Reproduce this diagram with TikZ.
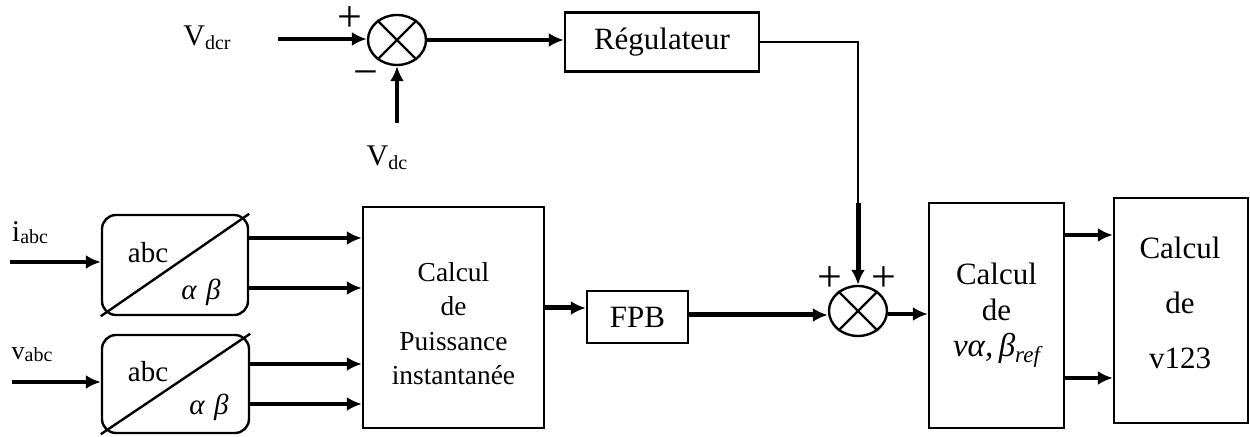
\documentclass[tikz,border=0pt]{standalone}
\usepackage{fontspec}
\setmainfont{Liberation Serif}
\usetikzlibrary{arrows.meta,shapes.geometric}

\begin{document}
\begin{tikzpicture}[x=0.5pt,y=-0.5pt,
  blk/.style={draw,line width=1.2pt,inner sep=0pt,align=center},
  rblk/.style={blk,rounded corners=7pt},
  sumj/.style={draw,line width=1.2pt,ellipse,minimum width=29pt,minimum height=25pt,inner sep=0pt},
  tip/.style={-{Latex[length=7.5pt,width=7pt]}},
  conn/.style={line width=1.6pt,tip},
  heavy/.style={line width=2.5pt,tip},
  wire/.style={line width=1.3pt},
  big/.style={font=\fontsize{15.5}{18}\selectfont},
  mid/.style={font=\fontsize{13.7}{17.2}\selectfont},
  sgn/.style={font=\fontsize{22}{22}\selectfont,inner sep=0pt},
  sig/.style={font=\fontsize{15}{15}\selectfont,inner sep=0pt},
  ab/.style={font=\fontsize{14.5}{14.5}\selectfont}
]
\useasboundingbox (0,0) rectangle (1250,437);

% summing junctions
\node[sumj] (s1) at (397,40) {};
\draw[line width=1.2pt] (s1.45) -- (s1.225) (s1.135) -- (s1.315);
\node[sumj] (s2) at (858,311) {};
\draw[line width=1.2pt] (s2.45) -- (s2.225) (s2.135) -- (s2.315);

% blocks
\node[blk,big,minimum width=97pt,minimum height=29.5pt] (reg) at (662,42) {Régulateur};
\node[blk,minimum width=90.5pt,minimum height=110.5pt] (calc) at (453.5,317.5) {};
\node[mid,align=center] (calctxt) at (453.5,323.5) {Calcul\\de\\Puissance\\instantanée};
\node[blk,big,minimum width=50.5pt,minimum height=26pt] (fpb) at (637.5,317) {FPB};
\node[blk,big,minimum width=67.5pt,minimum height=112.5pt] (cva) at (996.5,315.5)
  {Calcul\\de\\{\fontsize{16.5}{18}\selectfont\itshape vα,\,β\raisebox{-3pt}{\fontsize{11.5}{12}\selectfont ref}}};
\node[blk,minimum width=67pt,minimum height=112.5pt] (c123) at (1181,310.5) {};
\node[font=\fontsize{15.5}{27.5}\selectfont,align=center] (c123txt) at (1180,303) {Calcul\\de\\v123};

% abc / alpha-beta transforms
\node[rblk,minimum width=73pt,minimum height=50pt] (t1) at (175,265) {};
\draw[line width=1.2pt] (t1.south west) -- (t1.north east);
\node[ab] (t1a) at (148,253) {abc};
\node[ab] (t1b) at (201,292) {\itshape α\,\,β};
\node[rblk,minimum width=73.5pt,minimum height=49pt] (t2) at (175.5,384) {};
\draw[line width=1.2pt] (t2.south west) -- (t2.north east);
\node[ab] (t2a) at (148,372) {abc};
\node[ab] (t2b) at (209,407) {\itshape α\,\,β};

% signal labels
\node[sig] (vdcr) at (207,38) {V\raisebox{-2pt}{\fontsize{10}{10}\selectfont dcr}};
\node[sig] (vdc) at (387,158) {V\raisebox{-2pt}{\fontsize{10}{10}\selectfont dc}};
\node[sig] (iabc) at (30,233) {i\raisebox{-1pt}{\fontsize{10}{10}\selectfont abc}};
\node[sig] (vabc) at (32,355) {\fontsize{13}{13}\selectfont v\raisebox{-1pt}{\fontsize{10}{10}\selectfont abc}};

% signs
\node[sgn] (p1) at (350,19) {+};
\node[sgn] (m1) at (366,79) {−};
\node[sgn] (p2) at (830,279) {+};
\node[sgn] (p3) at (884,279) {+};

% free ends of inputs and the feedback bend
\coordinate (vdcrin) at (278,39);
\coordinate (vdcin) at (397,123);
\coordinate (iin) at (10,262);
\coordinate (vin) at (12,382);
\coordinate (corner) at (s2.north |- reg.east);
\coordinate (thick) at (s2.north |- 0,203);

% connectors
\draw[conn] (vdcrin) -- (vdcrin -| s1.west);
\draw[conn] (vdcin) -- (s1.south);
\draw[conn] (s1.east) -- (reg.west |- s1.east);
\draw[wire] (reg.east) -- (corner) -- (thick);
\draw[heavy] (thick) -- (s2.north);

\draw[conn] (iin) -- (iin -| t1.west);
\draw[conn] (vin) -- (vin -| t2.west);
\draw[conn] (t1.east |- 0,238) -- (calc.west |- 0,238);
\draw[conn] (t1.east |- 0,288) -- (calc.west |- 0,288);
\draw[conn] (t2.east |- 0,364) -- (calc.west |- 0,364);
\draw[conn] (t2.east |- 0,404) -- (calc.west |- 0,404);

\draw[heavy] (calc.east |- 0,308) -- (fpb.west |- 0,308);
\draw[heavy] (fpb.east |- 0,315) -- (s2.west |- 0,315);
\draw[conn] (s2.east |- 0,314) -- (cva.west |- 0,314);
\draw[conn] (cva.east |- 0,235) -- (c123.west |- 0,235);
\draw[conn] (cva.east |- 0,378) -- (c123.west |- 0,378);
\end{tikzpicture}
\end{document}
